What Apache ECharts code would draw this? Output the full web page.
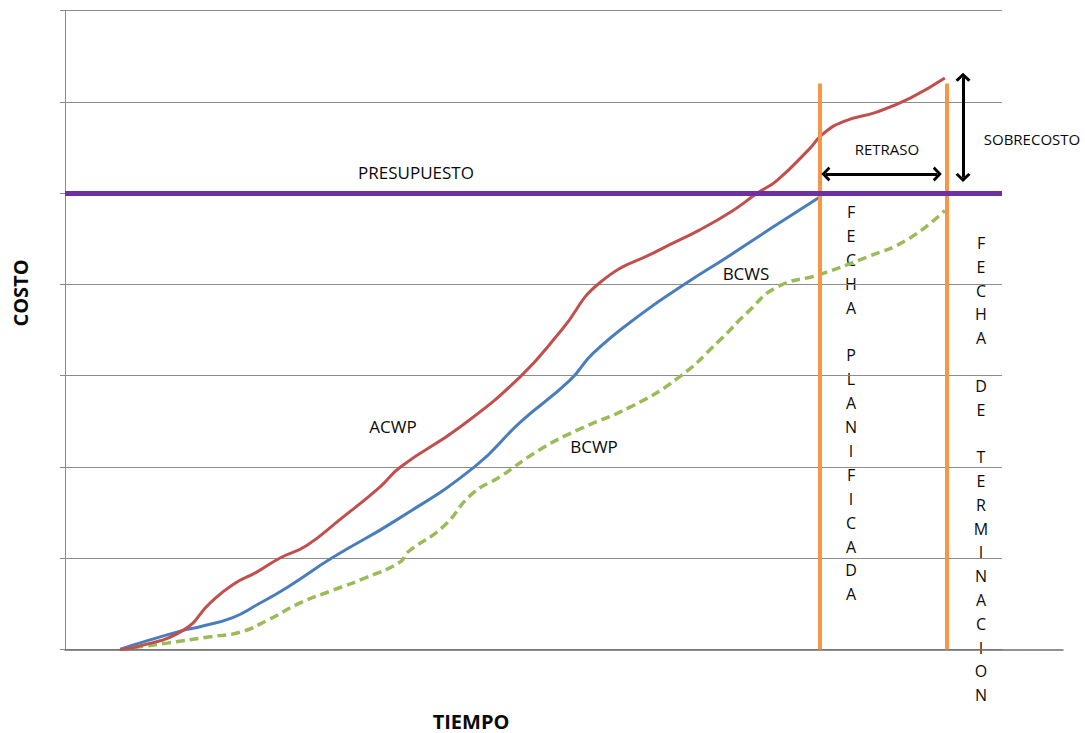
<!DOCTYPE html>
<html>
<head>
<meta charset="utf-8">
<script src="https://cdn.jsdelivr.net/npm/echarts@6/dist/echarts.min.js"></script>
<style>
  * { margin: 0; padding: 0; }
  html, body { background: #fff; }
  #main { width: 1085px; height: 733px; }
</style>
</head>
<body>
<div id="main"></div>
<script>
// tiempo (0-100) , costo (0-7)
var acwp = [[5.9,0],[7.3,0.02],[12.6,0.21],[15.5,0.51],[17.9,0.71],[20.5,0.85],[22.9,1.0],[25.8,1.14],
  [29.3,1.42],[33.6,1.78],[35.8,2.0],[42.2,2.44],[48.6,2.99],[53.0,3.5],[57.1,4.02],[63.5,4.38],
  [67.8,4.6],[71.3,4.81],[73.9,5.0],[76.0,5.14],[79.5,5.49],[80.8,5.64],[83.0,5.78],[86.7,5.89],
  [90.2,6.04],[93.9,6.26]];
var bcws = [[5.9,0],[7.3,0.05],[12.6,0.21],[14.4,0.25],[17.9,0.35],[20.5,0.49],[23.7,0.68],[28.6,1.01],
  [35.4,1.42],[43.7,2.0],[48.6,2.49],[53.9,2.95],[56.4,3.25],[61.7,3.69],[66.4,4.02],
  [70.7,4.3],[75.6,4.63],[80.6,4.96]];
var bcwp = [[5.9,0],[7.3,0.02],[10.9,0.07],[15.5,0.14],[18.7,0.19],[21.6,0.32],[25.1,0.51],[28.6,0.65],
  [32.2,0.79],[35.8,0.96],[36.5,1.06],[40.3,1.34],[43.5,1.71],[46.4,1.89],[50.7,2.19],[54.6,2.4],
  [60.4,2.66],[65.5,2.98],[69.9,3.39],[72.8,3.69],[76.0,3.97],[80.6,4.11],[85.6,4.3],[89.9,4.49],
  [93.9,4.81]];
var presupuesto = 5;
var fechaPlanificada = 80.6;
var fechaTerminacion = 94.1;
var topFechas = 6.2;

var chevron = 'path://M10,0 L20,10 L17,12.5 L10,5.5 L3,12.5 L0,10 Z';
var txtColor = '#0a0a0a';

function vertical(s) { return s.split('').join('\n'); }

var chart = echarts.init(document.getElementById('main'), null, {renderer: 'svg'});
chart.setOption({
  animation: false,
  grid: [
    {left: 65, right: 83, top: 10.5, bottom: 83.5},
    {left: 65, right: 22, top: 10.5, bottom: 83.5}
  ],
  xAxis: [
    {gridIndex: 0, type: 'value', min: 0, max: 100,
      axisLine: {show: false}, axisTick: {show: false}, axisLabel: {show: false}, splitLine: {show: false}},
    {gridIndex: 1, type: 'value', min: 0, max: 100,
      axisLine: {show: true, lineStyle: {color: '#6e6e6e', width: 1.5}},
      axisTick: {show: false}, axisLabel: {show: false}, splitLine: {show: false}}
  ],
  yAxis: [
    {gridIndex: 0, type: 'value', min: 0, max: 7, interval: 1,
      axisLine: {show: true, lineStyle: {color: '#8a8a8a', width: 1}},
      axisTick: {show: true, length: 5, lineStyle: {color: '#8a8a8a'}},
      axisLabel: {show: false},
      splitLine: {show: true, lineStyle: {color: '#8c8c8c', width: 1}}},
    {gridIndex: 1, type: 'value', min: 0, max: 7, show: false}
  ],
  series: [
    {
      name: 'fechas', type: 'line', data: [], silent: true,
      markLine: {
        symbol: 'none', silent: true, label: {show: false},
        lineStyle: {color: '#F79646', width: 4, type: 'solid'},
        data: [
          [{coord: [fechaPlanificada, 0]}, {coord: [fechaPlanificada, topFechas]}],
          [{coord: [fechaTerminacion, 0]}, {coord: [fechaTerminacion, topFechas]}]
        ]
      }
    },
    {
      name: 'PRESUPUESTO', type: 'line', data: [], silent: true,
      markLine: {
        symbol: 'none', silent: true, label: {show: false},
        lineStyle: {color: '#7030A0', width: 5, type: 'solid'},
        data: [{yAxis: presupuesto}]
      }
    },
    {
      name: 'BCWP', type: 'line', data: bcwp, showSymbol: false, smooth: 0.5,
      lineStyle: {color: '#9BBB59', width: 3.5, type: [9, 5]}
    },
    {
      name: 'BCWS', type: 'line', data: bcws, showSymbol: false, smooth: 0.5,
      lineStyle: {color: '#4A7EBB', width: 3}
    },
    {
      name: 'ACWP', type: 'line', data: acwp, showSymbol: false, smooth: 0.5,
      lineStyle: {color: '#C0504D', width: 3}
    },
    {
      name: 'flechas', type: 'line', data: [], silent: true,
      markLine: {
        symbol: [chevron, chevron], symbolSize: [15, 9], silent: true, label: {show: false},
        lineStyle: {color: '#000', width: 3, type: 'solid'},
        itemStyle: {color: '#000'},
        data: [
          [{coord: [81.2, 5.21]}, {coord: [93.1, 5.21]}],
          [{coord: [95.84, 6.27]}, {coord: [95.84, 5.17]}]
        ]
      }
    }
  ],
  graphic: [
    {type: 'text', x: 416, y: 172, style: {text: 'PRESUPUESTO', font: '17px "Open Sans"', fill: txtColor, textAlign: 'center', textVerticalAlign: 'middle'}},
    {type: 'text', x: 887, y: 149, style: {text: 'RETRASO', font: '15px "Open Sans"', fill: txtColor, textAlign: 'center', textVerticalAlign: 'middle'}},
    {type: 'text', x: 1032, y: 139, style: {text: 'SOBRECOSTO', font: '15px "Open Sans"', fill: txtColor, textAlign: 'center', textVerticalAlign: 'middle'}},
    {type: 'text', x: 746, y: 273, style: {text: 'BCWS', font: '17px "Open Sans"', fill: txtColor, textAlign: 'center', textVerticalAlign: 'middle'}},
    {type: 'text', x: 393, y: 426, style: {text: 'ACWP', font: '17px "Open Sans"', fill: txtColor, textAlign: 'center', textVerticalAlign: 'middle'}},
    {type: 'text', x: 594, y: 446, style: {text: 'BCWP', font: '17px "Open Sans"', fill: txtColor, textAlign: 'center', textVerticalAlign: 'middle'}},
    {type: 'text', x: 851, y: 200, style: {text: vertical('FECHA PLANIFICADA'), font: '16px "Open Sans"', lineHeight: 23.9, fill: txtColor, textAlign: 'center', textVerticalAlign: 'top'}},
    {type: 'text', x: 981, y: 231, style: {text: vertical('FECHA DE TERMINACION'), font: '16px "Open Sans"', lineHeight: 23.8, fill: txtColor, textAlign: 'center', textVerticalAlign: 'top'}},
    {type: 'text', x: 20, y: 293, rotation: Math.PI / 2, style: {text: 'COSTO', font: 'bold 20px "Open Sans"', fill: txtColor, textAlign: 'center', textVerticalAlign: 'middle'}},
    {type: 'text', x: 471, y: 721, style: {text: 'TIEMPO', font: 'bold 20px "Open Sans"', fill: txtColor, textAlign: 'center', textVerticalAlign: 'middle'}}
  ]
});
</script>
</body>
</html>
